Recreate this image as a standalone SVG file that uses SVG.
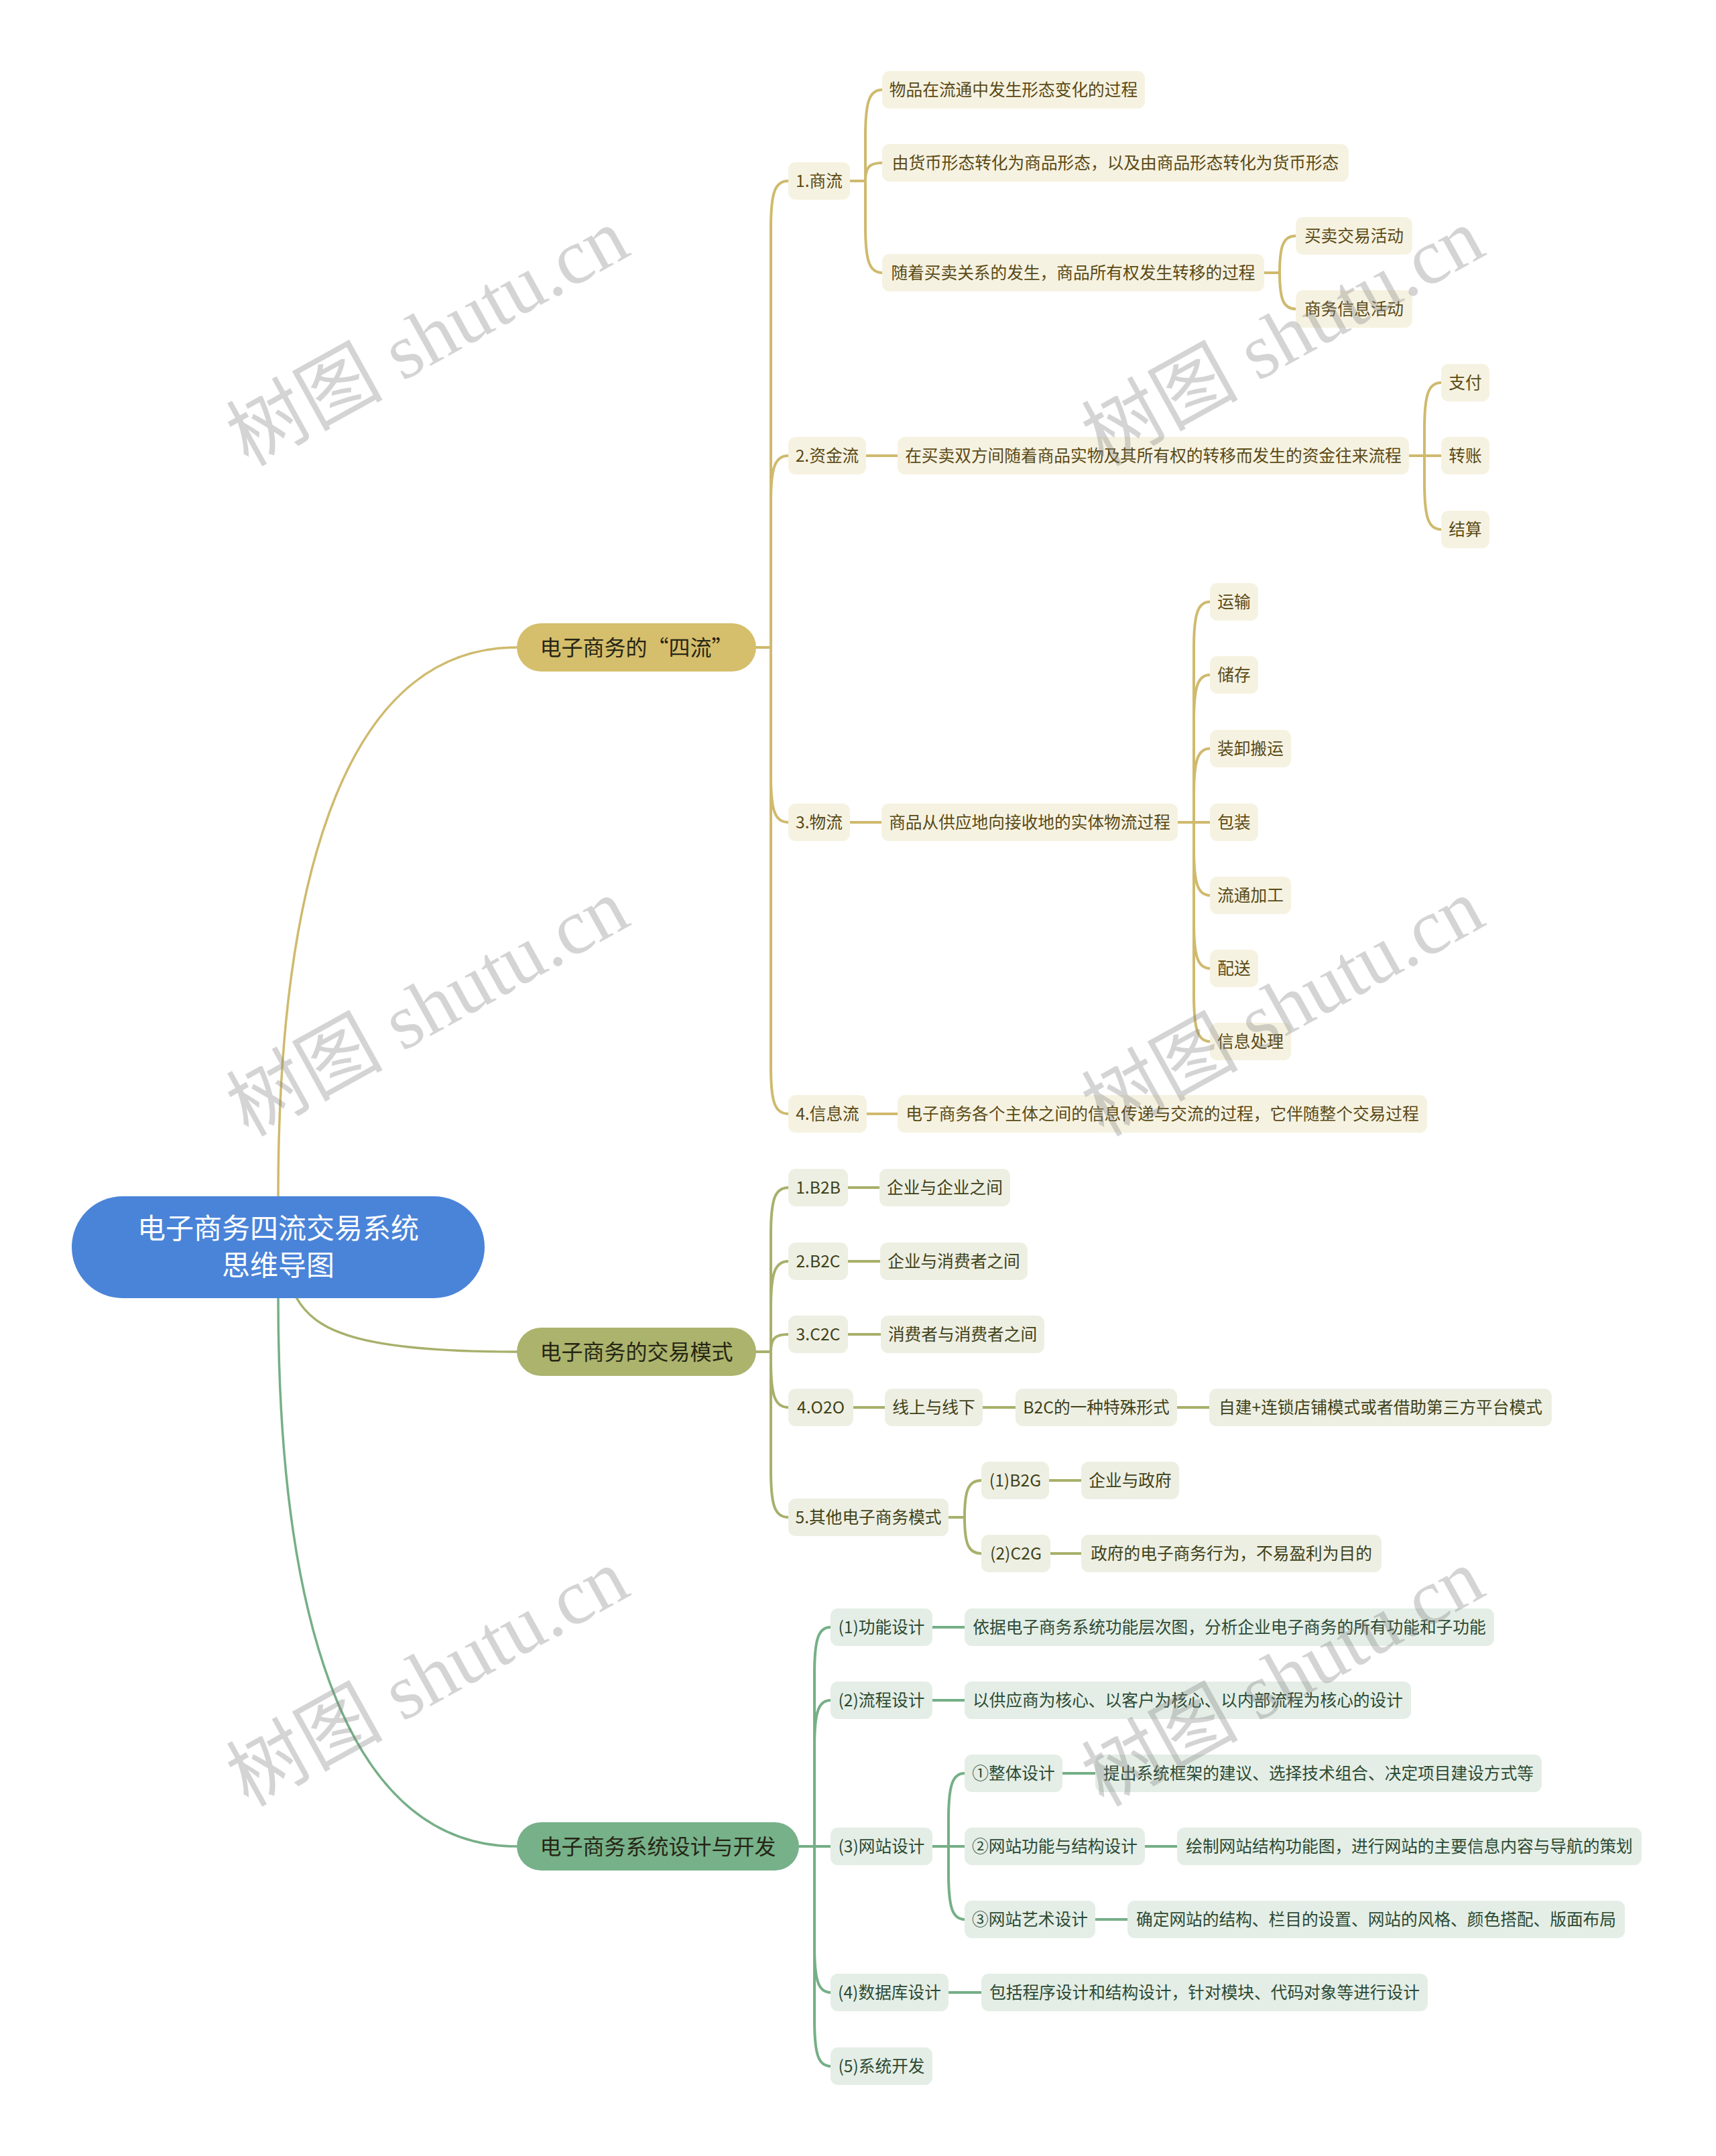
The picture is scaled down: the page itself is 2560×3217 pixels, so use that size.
<svg xmlns="http://www.w3.org/2000/svg" width="2560" height="3217" viewBox="0 0 2560 3217">
<style>
text{font-family:"Noto Sans CJK SC","Noto Sans",sans-serif;text-anchor:middle}
.c1,.c2,.c3{fill:none;stroke-width:4;stroke-linecap:round}
.c1{stroke:#CFBA6E}
.c2{stroke:#A8B06B}
.c3{stroke:#76AF87}
.m{stroke-width:3.5}
.l1 rect{fill:#F6F2E1}.l1 text{fill:#5A4A16;font-size:24.7px}
.l2 rect{fill:#EEEFE3}.l2 text{fill:#3F4218;font-size:24.7px}
.l3 rect{fill:#E4EEE6}.l3 text{fill:#2C4A34;font-size:24.7px}
.b text{fill:#262614;font-size:32px}
.wm{font-family:"Liberation Serif","Noto Sans CJK SC",serif;font-size:117px;fill:#808080;opacity:0.33;text-anchor:start}
</style>
<rect width="2560" height="3217" fill="#FFFFFF"/>
<g id="connectors">
<path class="c1 m" d="M415,1785 C415,1350 500,966 771,966"/>
<path class="c2 m" d="M442,1936 C470,1985 530,2017 771,2017"/>
<path class="c3 m" d="M415,1937 C415,2372 500,2755 771,2755"/>
<path class="c1" d="M1128,966 H1150"/>
<path class="c1" d="M1150,966 V340 C1150,287.5 1156,270 1176,270"/>
<path class="c1" d="M1150,966 V750 C1150,697.5 1156,680 1176,680"/>
<path class="c1" d="M1150,966 V1157 C1150,1209.5 1156,1227 1176,1227"/>
<path class="c1" d="M1150,966 V1592 C1150,1644.5 1156,1662 1176,1662"/>
<path class="c1" d="M1268,270 H1291"/>
<path class="c1" d="M1291,270 V204 C1291,151.5 1297,134 1316,134"/>
<path class="c1" d="M1291,270 C1291,249.75 1297,243 1316,243"/>
<path class="c1" d="M1291,270 V337 C1291,389.5 1297,407 1316,407"/>
<path class="c1" d="M1886,407 H1909"/>
<path class="c1" d="M1909,407 C1909,365.75 1915,352 1933,352"/>
<path class="c1" d="M1909,407 C1909,447.25 1915,461 1933,461"/>
<path class="c1" d="M1292,680 H1339"/>
<path class="c1" d="M2102,680 H2125"/>
<path class="c1" d="M2125,680 V641 C2125,588.5 2131,571 2150,571"/>
<path class="c1" d="M2125,680 H2150"/>
<path class="c1" d="M2125,680 V720 C2125,772.5 2131,790 2150,790"/>
<path class="c1" d="M1268,1227 H1315"/>
<path class="c1" d="M1757,1227 H1781"/>
<path class="c1" d="M1781,1227 V968 C1781,915.5 1787,898 1805,898"/>
<path class="c1" d="M1781,1227 V1077 C1781,1024.5 1787,1007 1805,1007"/>
<path class="c1" d="M1781,1227 V1187 C1781,1134.5 1787,1117 1805,1117"/>
<path class="c1" d="M1781,1227 H1805"/>
<path class="c1" d="M1781,1227 V1266 C1781,1318.5 1787,1336 1805,1336"/>
<path class="c1" d="M1781,1227 V1375 C1781,1427.5 1787,1445 1805,1445"/>
<path class="c1" d="M1781,1227 V1484 C1781,1536.5 1787,1554 1805,1554"/>
<path class="c1" d="M1293,1662 H1339"/>
<path class="c2" d="M1128,2017 H1150"/>
<path class="c2" d="M1150,2017 V1842 C1150,1789.5 1156,1772 1176,1772"/>
<path class="c2" d="M1150,2017 V1952 C1150,1899.5 1156,1882 1176,1882"/>
<path class="c2" d="M1150,2017 C1150,1997.5 1156,1991 1176,1991"/>
<path class="c2" d="M1150,2017 V2030 C1150,2082.5 1156,2100 1176,2100"/>
<path class="c2" d="M1150,2017 V2194 C1150,2246.5 1156,2264 1176,2264"/>
<path class="c2" d="M1265,1772 H1312"/>
<path class="c2" d="M1265,1882 H1313"/>
<path class="c2" d="M1265,1991 H1314"/>
<path class="c2" d="M1273,2100 H1320"/>
<path class="c2" d="M1466,2100 H1515"/>
<path class="c2" d="M1756,2100 H1804"/>
<path class="c2" d="M1415,2264 H1439"/>
<path class="c2" d="M1439,2264 C1439,2222.75 1445,2209 1464,2209"/>
<path class="c2" d="M1439,2264 C1439,2304.5 1445,2318 1464,2318"/>
<path class="c2" d="M1565,2209 H1613"/>
<path class="c2" d="M1567,2318 H1613"/>
<path class="c3" d="M1192,2755 H1215"/>
<path class="c3" d="M1215,2755 V2498 C1215,2445.5 1221,2428 1239,2428"/>
<path class="c3" d="M1215,2755 V2607 C1215,2554.5 1221,2537 1239,2537"/>
<path class="c3" d="M1215,2755 H1239"/>
<path class="c3" d="M1215,2755 V2903 C1215,2955.5 1221,2973 1239,2973"/>
<path class="c3" d="M1215,2755 V3013 C1215,3065.5 1221,3083 1239,3083"/>
<path class="c3" d="M1391,2428 H1439"/>
<path class="c3" d="M1391,2537 H1439"/>
<path class="c3" d="M1391,2755 H1415"/>
<path class="c3" d="M1415,2755 V2716 C1415,2663.5 1421,2646 1439,2646"/>
<path class="c3" d="M1415,2755 H1439"/>
<path class="c3" d="M1415,2755 V2794 C1415,2846.5 1421,2864 1439,2864"/>
<path class="c3" d="M1585,2646 H1634"/>
<path class="c3" d="M1708,2755 H1756"/>
<path class="c3" d="M1634,2864 H1682"/>
<path class="c3" d="M1415,2973 H1464"/>
</g>
<g id="root"><rect x="107" y="1785" width="616" height="152" rx="76" fill="#4A84D9"/><text x="415" y="1848" font-size="42" fill="#FFFFFF">电子商务四流交易系统</text><text x="415" y="1903" font-size="42" fill="#FFFFFF">思维导图</text></g>
<g id="b1" class="b"><rect x="771" y="930" width="357" height="72" rx="36" fill="#D5BE6C"/><text x="949.5" y="977.5">电子商务的“四流”</text></g>
<g id="b2" class="b"><rect x="771" y="1981" width="357" height="72" rx="36" fill="#ABB36D"/><text x="949.5" y="2028.5">电子商务的交易模式</text></g>
<g id="b3" class="b"><rect x="771" y="2719" width="421" height="72" rx="36" fill="#76B18A"/><text x="981.5" y="2766.5">电子商务系统设计与开发</text></g>
<g id="n1" class="l1"><rect x="1176" y="242" width="92" height="56" rx="11"/><text x="1222" y="279">1.商流</text></g>
<g id="n1a" class="l1"><rect x="1316" y="106" width="392" height="56" rx="11"/><text x="1512" y="143">物品在流通中发生形态变化的过程</text></g>
<g id="n1b" class="l1"><rect x="1316" y="215" width="696" height="56" rx="11"/><text x="1664" y="252">由货币形态转化为商品形态，以及由商品形态转化为货币形态</text></g>
<g id="n1c" class="l1"><rect x="1316" y="379" width="570" height="56" rx="11"/><text x="1601" y="416">随着买卖关系的发生，商品所有权发生转移的过程</text></g>
<g id="n1c1" class="l1"><rect x="1933" y="324" width="174" height="56" rx="11"/><text x="2020" y="361">买卖交易活动</text></g>
<g id="n1c2" class="l1"><rect x="1933" y="433" width="174" height="56" rx="11"/><text x="2020" y="470">商务信息活动</text></g>
<g id="n2" class="l1"><rect x="1176" y="652" width="116" height="56" rx="11"/><text x="1234" y="689">2.资金流</text></g>
<g id="n2a" class="l1"><rect x="1339" y="652" width="763" height="56" rx="11"/><text x="1720.5" y="689">在买卖双方间随着商品实物及其所有权的转移而发生的资金往来流程</text></g>
<g id="n2a1" class="l1"><rect x="2150" y="543" width="72" height="56" rx="11"/><text x="2186" y="580">支付</text></g>
<g id="n2a2" class="l1"><rect x="2150" y="652" width="72" height="56" rx="11"/><text x="2186" y="689">转账</text></g>
<g id="n2a3" class="l1"><rect x="2150" y="762" width="72" height="56" rx="11"/><text x="2186" y="799">结算</text></g>
<g id="n3" class="l1"><rect x="1176" y="1199" width="92" height="56" rx="11"/><text x="1222" y="1236">3.物流</text></g>
<g id="n3a" class="l1"><rect x="1315" y="1199" width="442" height="56" rx="11"/><text x="1536" y="1236">商品从供应地向接收地的实体物流过程</text></g>
<g id="n3a1" class="l1"><rect x="1805" y="870" width="72" height="56" rx="11"/><text x="1841" y="907">运输</text></g>
<g id="n3a2" class="l1"><rect x="1805" y="979" width="72" height="56" rx="11"/><text x="1841" y="1016">储存</text></g>
<g id="n3a3" class="l1"><rect x="1805" y="1089" width="121" height="56" rx="11"/><text x="1865.5" y="1126">装卸搬运</text></g>
<g id="n3a4" class="l1"><rect x="1805" y="1199" width="72" height="56" rx="11"/><text x="1841" y="1236">包装</text></g>
<g id="n3a5" class="l1"><rect x="1805" y="1308" width="121" height="56" rx="11"/><text x="1865.5" y="1345">流通加工</text></g>
<g id="n3a6" class="l1"><rect x="1805" y="1417" width="72" height="56" rx="11"/><text x="1841" y="1454">配送</text></g>
<g id="n3a7" class="l1"><rect x="1805" y="1526" width="121" height="56" rx="11"/><text x="1865.5" y="1563">信息处理</text></g>
<g id="n4" class="l1"><rect x="1176" y="1634" width="117" height="56" rx="11"/><text x="1234.5" y="1671">4.信息流</text></g>
<g id="n4a" class="l1"><rect x="1339" y="1634" width="790" height="56" rx="11"/><text x="1734" y="1671">电子商务各个主体之间的信息传递与交流的过程，它伴随整个交易过程</text></g>
<g id="m1" class="l2"><rect x="1176" y="1744" width="89" height="56" rx="11"/><text x="1220.5" y="1781">1.B2B</text></g>
<g id="m1a" class="l2"><rect x="1312" y="1744" width="195" height="56" rx="11"/><text x="1409.5" y="1781">企业与企业之间</text></g>
<g id="m2" class="l2"><rect x="1176" y="1854" width="89" height="56" rx="11"/><text x="1220.5" y="1891">2.B2C</text></g>
<g id="m2a" class="l2"><rect x="1313" y="1854" width="220" height="56" rx="11"/><text x="1423" y="1891">企业与消费者之间</text></g>
<g id="m3" class="l2"><rect x="1176" y="1963" width="89" height="56" rx="11"/><text x="1220.5" y="2000">3.C2C</text></g>
<g id="m3a" class="l2"><rect x="1314" y="1963" width="244" height="56" rx="11"/><text x="1436" y="2000">消费者与消费者之间</text></g>
<g id="m4" class="l2"><rect x="1176" y="2072" width="97" height="56" rx="11"/><text x="1224.5" y="2109">4.O2O</text></g>
<g id="m4a" class="l2"><rect x="1320" y="2072" width="146" height="56" rx="11"/><text x="1393" y="2109">线上与线下</text></g>
<g id="m4b" class="l2"><rect x="1515" y="2072" width="241" height="56" rx="11"/><text x="1635.5" y="2109">B2C的一种特殊形式</text></g>
<g id="m4c" class="l2"><rect x="1804" y="2072" width="511" height="56" rx="11"/><text x="2059.5" y="2109">自建+连锁店铺模式或者借助第三方平台模式</text></g>
<g id="m5" class="l2"><rect x="1176" y="2236" width="239" height="56" rx="11"/><text x="1295.5" y="2273">5.其他电子商务模式</text></g>
<g id="m5a" class="l2"><rect x="1464" y="2181" width="101" height="56" rx="11"/><text x="1514.5" y="2218">(1)B2G</text></g>
<g id="m5a1" class="l2"><rect x="1613" y="2181" width="146" height="56" rx="11"/><text x="1686" y="2218">企业与政府</text></g>
<g id="m5b" class="l2"><rect x="1464" y="2290" width="103" height="56" rx="11"/><text x="1515.5" y="2327">(2)C2G</text></g>
<g id="m5b1" class="l2"><rect x="1613" y="2290" width="448" height="56" rx="11"/><text x="1837" y="2327">政府的电子商务行为，不易盈利为目的</text></g>
<g id="d1" class="l3"><rect x="1239" y="2400" width="152" height="56" rx="11"/><text x="1315" y="2437">(1)功能设计</text></g>
<g id="d1a" class="l3"><rect x="1439" y="2400" width="790" height="56" rx="11"/><text x="1834" y="2437">依据电子商务系统功能层次图，分析企业电子商务的所有功能和子功能</text></g>
<g id="d2" class="l3"><rect x="1239" y="2509" width="152" height="56" rx="11"/><text x="1315" y="2546">(2)流程设计</text></g>
<g id="d2a" class="l3"><rect x="1439" y="2509" width="666" height="56" rx="11"/><text x="1772" y="2546">以供应商为核心、以客户为核心、以内部流程为核心的设计</text></g>
<g id="d3" class="l3"><rect x="1239" y="2727" width="152" height="56" rx="11"/><text x="1315" y="2764">(3)网站设计</text></g>
<g id="d3a" class="l3"><rect x="1439" y="2618" width="146" height="56" rx="11"/><text x="1512" y="2655">①整体设计</text></g>
<g id="d3a1" class="l3"><rect x="1634" y="2618" width="666" height="56" rx="11"/><text x="1967" y="2655">提出系统框架的建议、选择技术组合、决定项目建设方式等</text></g>
<g id="d3b" class="l3"><rect x="1439" y="2727" width="269" height="56" rx="11"/><text x="1573.5" y="2764">②网站功能与结构设计</text></g>
<g id="d3b1" class="l3"><rect x="1756" y="2727" width="693" height="56" rx="11"/><text x="2102.5" y="2764">绘制网站结构功能图，进行网站的主要信息内容与导航的策划</text></g>
<g id="d3c" class="l3"><rect x="1439" y="2836" width="195" height="56" rx="11"/><text x="1536.5" y="2873">③网站艺术设计</text></g>
<g id="d3c1" class="l3"><rect x="1682" y="2836" width="742" height="56" rx="11"/><text x="2053" y="2873">确定网站的结构、栏目的设置、网站的风格、颜色搭配、版面布局</text></g>
<g id="d4" class="l3"><rect x="1239" y="2945" width="176" height="56" rx="11"/><text x="1327" y="2982">(4)数据库设计</text></g>
<g id="d4a" class="l3"><rect x="1464" y="2945" width="666" height="56" rx="11"/><text x="1797" y="2982">包括程序设计和结构设计，针对模块、代码对象等进行设计</text></g>
<g id="d5" class="l3"><rect x="1239" y="3055" width="152" height="56" rx="11"/><text x="1315" y="3092">(5)系统开发</text></g>
<g id="watermarks">
<text class="wm" x="370" y="697" transform="rotate(-29 370 697)">树图 shutu.cn</text>
<text class="wm" x="1646" y="697" transform="rotate(-29 1646 697)">树图 shutu.cn</text>
<text class="wm" x="370" y="1697" transform="rotate(-29 370 1697)">树图 shutu.cn</text>
<text class="wm" x="1646" y="1697" transform="rotate(-29 1646 1697)">树图 shutu.cn</text>
<text class="wm" x="370" y="2697" transform="rotate(-29 370 2697)">树图 shutu.cn</text>
<text class="wm" x="1646" y="2697" transform="rotate(-29 1646 2697)">树图 shutu.cn</text>
</g>
</svg>
